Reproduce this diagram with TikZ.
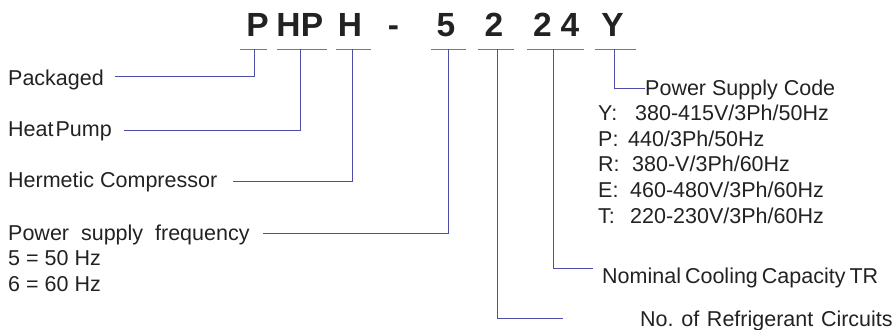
\documentclass[tikz,border=0pt]{standalone}
\usepackage{fontspec}
\setmainfont{Liberation Sans}
\definecolor{txt}{HTML}{222222}
\definecolor{lne}{HTML}{4E4EA8}
\begin{document}
\begin{tikzpicture}[x=1pt,y=-1pt,
  code/.style={inner sep=0pt,anchor=base,text=txt,font=\fontsize{33.5}{36}\selectfont\bfseries},
  lbl/.style={inner sep=0pt,anchor=base west,text=txt,font=\fontsize{21.5}{24}\selectfont},
  conn/.style={draw=lne,line width=0.9pt},
  bar/.style={draw=lne!80,line width=0.9pt}]
\useasboundingbox (0,0) rectangle (893,329);
% code letters
\node[code] (c1) at (257.5,37) {P};
\node[code] (c2) at (288.5,37) {H};
\node[code] (c3) at (312,37) {P};
\node[code] (c4) at (350,37) {H};
\node[code] (c5) at (393.5,37) {-};
\node[code] (c6) at (446,37) {5};
\node[code] (c7) at (494,37) {2};
\node[code] (c8) at (542.5,37) {2};
\node[code] (c9) at (570,37) {4};
\node[code] (c10) at (612.5,37) {Y};
% bars
\coordinate (b1a) at (240,49); \coordinate (b1b) at (267,49);
\coordinate (b2a) at (277,49); \coordinate (b2b) at (327,49);
\coordinate (b3a) at (336,49); \coordinate (b3b) at (371,49);
\coordinate (b4a) at (431,49); \coordinate (b4b) at (466,49);
\coordinate (b5a) at (478,49); \coordinate (b5b) at (514,49);
\coordinate (b6a) at (527,49); \coordinate (b6b) at (584,49);
\coordinate (b7a) at (595,49); \coordinate (b7b) at (636,49);
\foreach \i in {1,...,7}{\draw[bar] (b\i a) -- (b\i b);}
% bar tap points
\coordinate (t1) at (254.7,49);
\coordinate (t2) at (300,49);
\coordinate (t3) at (352.7,49);
\coordinate (t4) at (448.5,49);
\coordinate (t5) at (497,49);
\coordinate (t6) at (553,49);
\coordinate (t7) at (614,49);
% labels left
\node[lbl] (pk) at (8,85) {Packaged};
\node[lbl] (hp) at (8,136.5) {Heat\hspace{2pt}Pump};
\node[lbl] (hc) at (8,187) {Hermetic Compressor};
\node[lbl] (pf) at (8,240) {Power~~supply~~frequency};
\node[lbl] (f5) at (8,265) {5 = 50 Hz};
\node[lbl] (f6) at (8,291) {6 = 60 Hz};
% labels right
\node[lbl] (psc) at (645,95.5) {Power Supply Code};
\node[lbl] (ky) at (598,120.5) {Y:};
\node[lbl] (vy) at (635,120.5) {380-415V/3Ph/50Hz};
\node[lbl] (kp) at (598,146.5) {P:};
\node[lbl] (vp) at (628,146.5) {440/3Ph/50Hz};
\node[lbl] (kr) at (598,171.5) {R:};
\node[lbl] (vr) at (632,171.5) {380-V/3Ph/60Hz};
\node[lbl] (ke) at (598,197.5) {E:};
\node[lbl] (ve) at (630,197.5) {460-480V/3Ph/60Hz};
\node[lbl] (kt) at (598,223) {T:};
\node[lbl] (vt) at (630,223) {220-230V/3Ph/60Hz};
\node[lbl] (nc) at (602,283) {Nominal\hspace{4pt}Cooling\hspace{4pt}Capacity\hspace{4pt}TR};
\node[lbl] (rc) at (640,326) {No.\hspace{7.7pt}of\hspace{7.7pt}Refrigerant\hspace{7.7pt}Circuits};
% connector ends
\coordinate (e1) at (115,76);
\coordinate (e2) at (124,130);
\coordinate (e3) at (233,181);
\coordinate (e4) at (263,233);
\coordinate (e5) at (563,318);
\coordinate (e6) at (593,268);
\coordinate (e7) at (645,88);
\draw[conn] (e1) -| (t1);
\draw[conn] (e2) -| (t2);
\draw[conn] (e3) -| (t3);
\draw[conn] (e4) -| (t4);
\draw[conn] (e5) -| (t5);
\draw[conn] (e6) -| (t6);
\draw[conn] (e7) -| (t7);
\end{tikzpicture}
\end{document}
